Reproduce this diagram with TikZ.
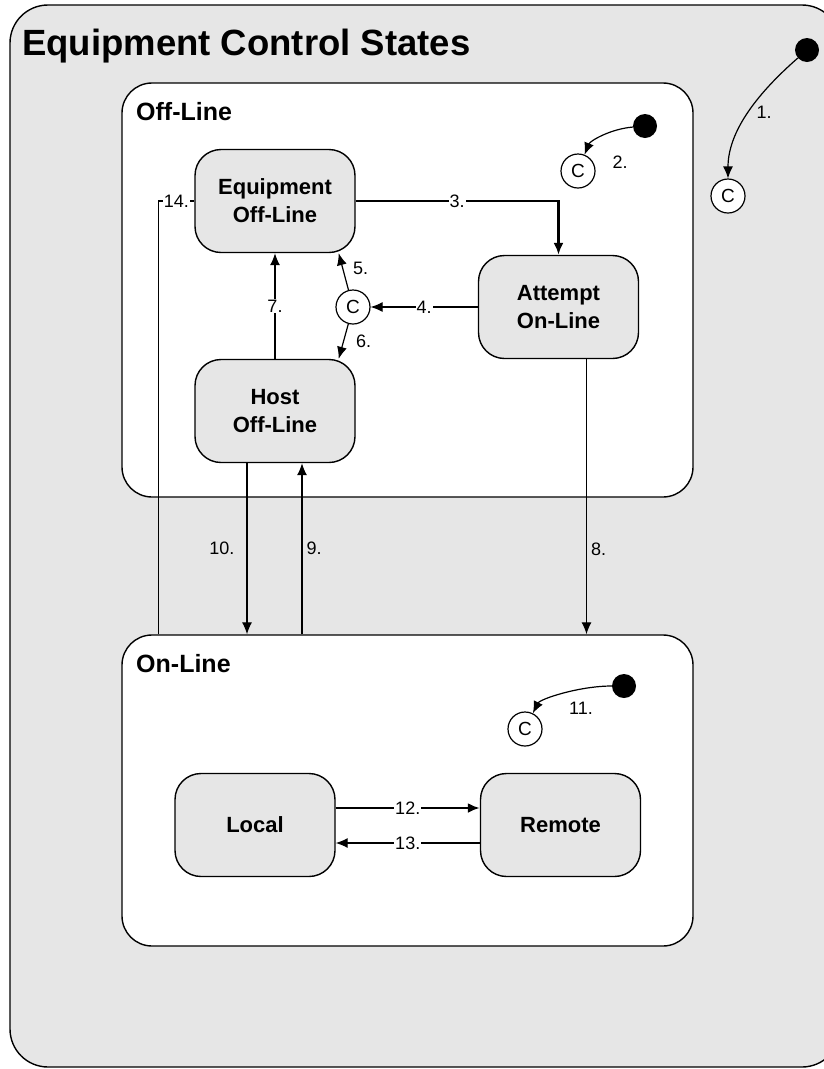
\documentclass[tikz,border=0pt]{standalone}
\usepackage{fontspec}
\setmainfont{Liberation Sans}
\usetikzlibrary{calc, arrows.meta}
\definecolor{stategray}{HTML}{E6E6E6}
\def\shift{28pt}
\tikzset{region/.style={draw, line width=1.4pt, fill=white, rounded corners=30pt, inner sep=0pt}}
\tikzset{state/.style={draw, line width=1.4pt, fill=stategray, rounded corners=26pt, minimum width=160pt, minimum height=103pt, align=center, font=\bfseries\fontsize{22}{28}\selectfont}}
\tikzset{cond/.style={draw, circle, line width=1.2pt, fill=white, minimum size=34pt, inner sep=0pt, font=\fontsize{19}{19}\selectfont}}
\tikzset{init/.style={circle, fill=black, minimum size=24pt, inner sep=0pt}}
\tikzset{trans/.style={line width=1.2pt, -{Latex[length=12pt,width=10pt]}}}
\tikzset{lbl/.style={font=\fontsize{18}{18}\selectfont, inner sep=2pt}}
\tikzset{midlbl/.style={lbl, fill=white, inner sep=1pt}}

\begin{document}
\begin{tikzpicture}[x=1pt, y=-1pt]
  \useasboundingbox (0,0) rectangle (824,1069);
  \clip (0,0) rectangle (824,1069);
  % Frame
  \draw[line width=1.4pt, fill=stategray, rounded corners=38pt] (10,5) rectangle (840,1067);
  \node[anchor=base west, inner sep=0pt, font=\bfseries\fontsize{36.5}{40}\selectfont] (title) at (22,55) {Equipment Control States};

  % Regions
  \node[region, minimum width=571pt, minimum height=414pt] (offline) at (407.5,290) {};
  \node[region, minimum width=571pt, minimum height=311pt] (online) at (407.5,790.5) {};
  \node[anchor=base west, inner sep=0pt, font=\bfseries\fontsize{25}{25}\selectfont] (offtitle) at (136,120) {Off-Line};
  \node[anchor=base west, inner sep=0pt, font=\bfseries\fontsize{25}{25}\selectfont] (ontitle) at (136,672) {On-Line};

  % States
  \node[state] (eqoff) at (275,201) {Equipment\\Off-Line};
  \node[state] (attempt) at (558.5,307) {Attempt\\On-Line};
  \node[state] (hostoff) at (275,411) {Host\\Off-Line};
  \node[state] (local) at (255,825) {Local};
  \node[state] (remote) at (560.5,825) {Remote};

  % Pseudo-states
  \node[init] (start1) at (807,50) {};
  \node[cond] (cond1) at (728,196) {C};
  \node[init] (start2) at (645,126) {};
  \node[cond] (cond2) at (578,171) {C};
  \node[cond] (cond45) at (353,307) {C};
  \node[init] (start11) at (624,686) {};
  \node[cond] (cond11) at (525,729) {C};

  % Transitions
  \draw[trans] (start1) .. controls +(-40,35) and +(0,-70) .. (cond1);
  \node[lbl] (t1) at (764,112) {1.};
  \draw[trans] (start2) .. controls +(-35,3) and +(12,-30) .. (cond2);
  \node[lbl] (t2) at (620,162) {2.};
  \draw[trans, line width=2.4pt] (eqoff.east) -| node[midlbl, pos=0.25] (t3) {3.} (attempt.north);
  \draw[trans] (attempt) -- node[midlbl] (t4) {4.} (cond45);
  \draw[trans] (cond45) -- node[lbl, anchor=west, pos=0.6, xshift=8pt] (t5) {5.} ([xshift=-17pt]eqoff.south east);
  \draw[trans] (cond45) -- node[lbl, anchor=west, pos=0.5, xshift=10pt] (t6) {6.} ([xshift=-17pt]hostoff.north east);
  \draw[trans] (hostoff) -- node[midlbl] (t7) {7.} (eqoff);
  \draw[trans] ([xshift=\shift]attempt.south) -- node[lbl, right, pos=0.69, xshift=2pt] (t8) {8.} ([xshift=\shift]attempt.south |- online.north);
  \draw[trans] ([xshift=-\shift]hostoff.south) -- node[lbl, left, pos=0.5, xshift=-10pt] (t10) {10.} ([xshift=-\shift]hostoff.south |- online.north);
  \draw[trans] ([xshift=27pt]hostoff.south |- online.north) -- node[lbl, right, pos=0.5, xshift=2pt] (t9) {9.} ([xshift=27pt]hostoff.south);
  \draw[trans] (start11) .. controls +(-45,0) and +(15,-30) .. (cond11);
  \node[lbl] (t11) at (581,708) {11.};
  \draw[trans, line width=2.4pt] ([yshift=17pt]local.east) -- node[midlbl] (t12) {12.} ([yshift=17pt]local.east -| remote.west);
  \draw[trans] ([yshift=-18pt]remote.west) -- node[midlbl] (t13) {13.} ([yshift=-18pt]remote.west -| local.east);
  % 14.
  \coordinate (bend14) at ($(eqoff.west)+(-36,0)$);
  \draw[line width=1.2pt] (bend14 |- online.north) -- (bend14) -- node[midlbl] (t14) {14.} (eqoff.west);
\end{tikzpicture}
\end{document}
